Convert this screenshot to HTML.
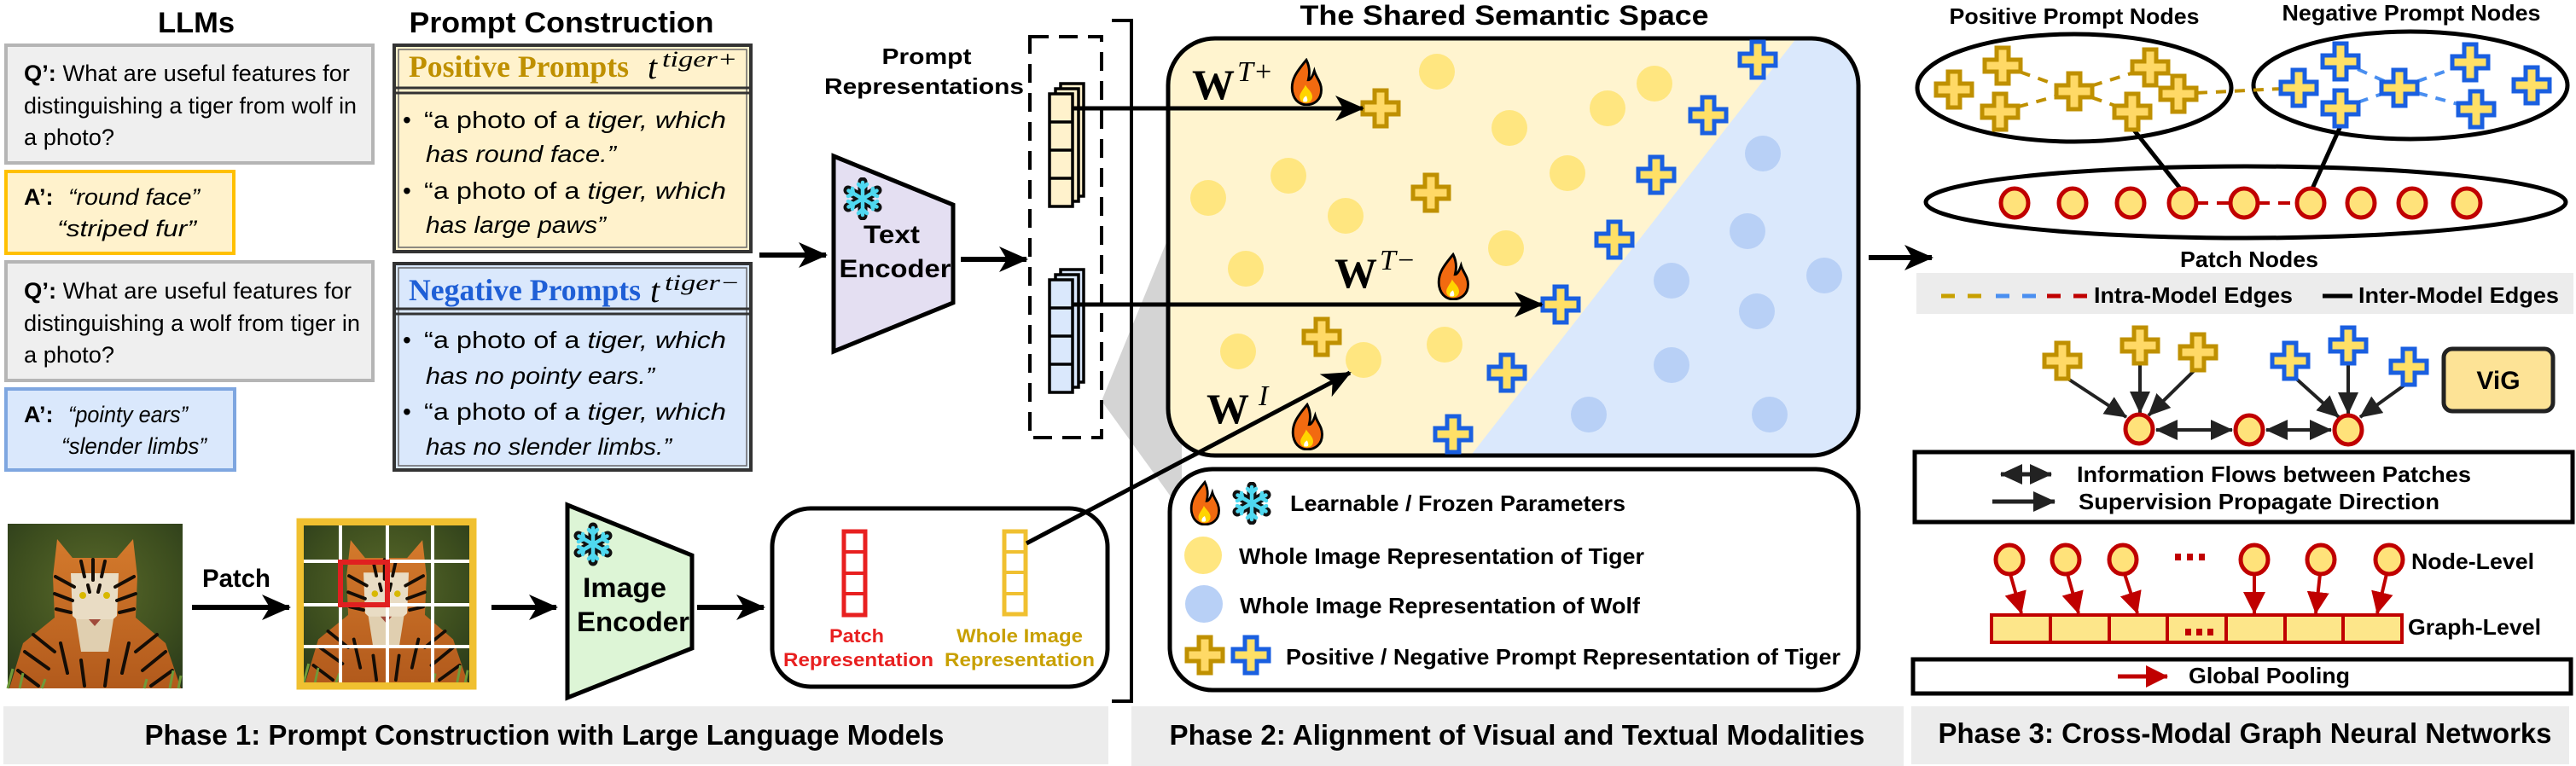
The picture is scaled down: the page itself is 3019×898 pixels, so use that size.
<!DOCTYPE html>
<html><head><meta charset="utf-8"><style>
html,body{margin:0;padding:0;background:#fff;}
svg{display:block;}
text{font-family:"Liberation Sans",Arial,sans-serif;}
.b{font-weight:bold;}
.sf{font-family:"Liberation Serif","Times New Roman",serif;}
</style></head><body>
<svg width="3019" height="898" viewBox="0 0 3019 898" xmlns="http://www.w3.org/2000/svg">
<defs>
<marker id="ah" markerUnits="userSpaceOnUse" markerWidth="34" markerHeight="30" refX="32" refY="15" orient="auto"><path d="M0,0 L34,15 L0,30 L9,15 z" fill="#000"/></marker>
<marker id="ah2" markerUnits="userSpaceOnUse" markerWidth="26" markerHeight="24" refX="25" refY="12" orient="auto-start-reverse"><path d="M0,0 L26,12 L0,24 z" fill="#222"/></marker>
<marker id="ahr" markerUnits="userSpaceOnUse" markerWidth="26" markerHeight="26" refX="25" refY="13" orient="auto"><path d="M0,0 L26,13 L0,26 z" fill="#c00000"/></marker>
<symbol id="flame" viewBox="0 0 36 48"><path d="M18 2 C8 14 2 22 4 34 C6 44 13 47 18 47 C26 47 33 42 33 32 C33 24 28 20 26 13 C24 19 22 22 20 22 C22 14 21 8 18 2Z" fill="#f26a10" stroke="#000" stroke-width="2.5"/><path d="M18 45 C12 45 10 40 12 36 C14 32 16 30 17 27 C19 31 24 34 24 39 C24 43 21 45 18 45Z" fill="#ffd400"/><path d="M15 44 C14 41 16 39 18 38 C19 41 20 43 18 44Z" fill="#fff"/></symbol>
<symbol id="snow" viewBox="-25 -25 50 50"><g stroke="#111" stroke-width="11" stroke-linecap="round"><path d="M0,-20 V20 M-17,-10 L17,10 M-17,10 L17,-10"/></g><g stroke="#4fd8f0" stroke-width="4.5" stroke-linecap="round" fill="none"><path d="M0,-19 V19 M-16.5,-9.5 L16.5,9.5 M-16.5,9.5 L16.5,-9.5"/><path d="M-5,-17 L0,-12 L5,-17 M-5,17 L0,12 L5,17 M-17,-3 L-11,-6 L-12,-12 M17,3 L11,6 L12,12 M-17,3 L-11,6 L-12,12 M17,-3 L11,-6 L12,-12"/></g></symbol>
<path id="cross" d="M-7,-21 H7 V-7 H21 V7 H7 V21 H-7 V7 H-21 V-7 H-7 Z"/>
<g id="gp"><use href="#cross" fill="#ffd966" stroke="#bf9000" stroke-width="5"/></g>
<g id="bp"><use href="#cross" fill="#ffe066" stroke="#1a5fe0" stroke-width="5"/></g>
<g id="pc"><ellipse rx="16" ry="17" fill="#ffe27a" stroke="#c00000" stroke-width="5"/></g>
<clipPath id="ssclip"><rect x="1369" y="45" width="809" height="489" rx="55"/></clipPath>
<radialGradient id="tg" cx="0.5" cy="0.4" r="0.8"><stop offset="0" stop-color="#5a6a2a"/><stop offset="0.6" stop-color="#3c4d1e"/><stop offset="1" stop-color="#26361a"/></radialGradient>
<linearGradient id="tb" x1="0" y1="0" x2="0" y2="1"><stop offset="0" stop-color="#d47a2c"/><stop offset="1" stop-color="#b25a1c"/></linearGradient>
<g id="tiger">
<rect x="0" y="0" width="205" height="193" fill="url(#tg)"/>
<path d="M58 18 L76 40 L128 40 L147 18 L152 62 L150 110 L185 140 L203 193 L2 193 L18 140 L55 110 L53 62Z" fill="url(#tb)"/>
<path d="M74 58 L130 58 L128 108 L102 132 L76 108Z" fill="#e9dcc4"/>
<path d="M80 112 L124 112 L118 150 L86 150Z" fill="#e0cfb0"/>
<g stroke="#140d06" stroke-width="4" fill="none" stroke-linecap="round">
<path d="M56 62 L78 74 M148 62 L126 74 M55 82 L76 90 M150 82 L128 90 M57 100 L74 104 M148 100 L131 104"/>
<path d="M100 42 L100 66 M86 44 L90 62 M114 44 L110 62 M94 72 L96 80 M108 72 L106 80"/>
<path d="M30 130 L55 150 M20 150 L48 170 M12 172 L36 190 M175 130 L150 150 M185 150 L158 172 M193 172 L168 190"/>
<path d="M62 140 L70 175 M142 140 L134 175 M86 160 L90 190 M118 160 L114 190"/>
</g>
<circle cx="88" cy="84" r="4" fill="#d8b800"/><circle cx="116" cy="84" r="4" fill="#d8b800"/>
<path d="M95 112 L109 112 L102 120Z" fill="#a04a3a"/>
<g stroke="#6f9a3a" stroke-width="3"><path d="M0 193 L6 170 M14 193 L18 175 M190 193 L194 172 M200 193 L203 178 M40 193 L44 182 M160 193 L163 182"/></g>
</g>
</defs>

<!-- ===== PHASE 1 ===== -->
<text x="230" y="38" class="b" font-size="34" text-anchor="middle" textLength="90" lengthAdjust="spacingAndGlyphs">LLMs</text>
<text x="658" y="38" class="b" font-size="34" text-anchor="middle" textLength="357" lengthAdjust="spacingAndGlyphs">Prompt Construction</text>

<rect x="7" y="53" width="430" height="138" fill="#efefef" stroke="#b5b5b5" stroke-width="4"/>
<text font-size="27"><tspan x="28" y="95" textLength="382" lengthAdjust="spacingAndGlyphs"><tspan class="b">Q’:</tspan> What are useful features for</tspan><tspan x="28" y="133" textLength="390" lengthAdjust="spacingAndGlyphs">distinguishing a tiger from wolf in</tspan><tspan x="28" y="170" textLength="106" lengthAdjust="spacingAndGlyphs">a photo?</tspan></text>

<rect x="7" y="201" width="267" height="96" fill="#fff2cc" stroke="#ffc000" stroke-width="4"/>
<text font-size="27"><tspan x="28" y="240" class="b">A’:</tspan><tspan x="80" y="240" font-style="italic" textLength="154" lengthAdjust="spacingAndGlyphs">“round face”</tspan><tspan x="67" y="277" font-style="italic" textLength="163" lengthAdjust="spacingAndGlyphs">“striped fur”</tspan></text>

<rect x="7" y="307" width="430" height="139" fill="#efefef" stroke="#b5b5b5" stroke-width="4"/>
<text font-size="27"><tspan x="28" y="350" textLength="384" lengthAdjust="spacingAndGlyphs"><tspan class="b">Q’:</tspan> What are useful features for</tspan><tspan x="28" y="388" textLength="394" lengthAdjust="spacingAndGlyphs">distinguishing a wolf from tiger in</tspan><tspan x="28" y="425" textLength="106" lengthAdjust="spacingAndGlyphs">a photo?</tspan></text>

<rect x="7" y="456" width="268" height="95" fill="#dae8fc" stroke="#7ea6e0" stroke-width="4"/>
<text font-size="27"><tspan x="28" y="495" class="b">A’:</tspan><tspan x="80" y="495" font-style="italic" textLength="140" lengthAdjust="spacingAndGlyphs">“pointy ears”</tspan><tspan x="72" y="532" font-style="italic" textLength="170" lengthAdjust="spacingAndGlyphs">“slender limbs”</tspan></text>

<!-- positive prompts -->
<rect x="462" y="53" width="418" height="242" fill="#fff2cc" stroke="#333" stroke-width="4"/>
<rect x="467" y="58" width="408" height="232" fill="none" stroke="#666" stroke-width="1.5"/>
<line x1="462" y1="103" x2="880" y2="103" stroke="#333" stroke-width="3"/><line x1="462" y1="109" x2="880" y2="109" stroke="#333" stroke-width="3"/>
<text x="479" y="90" class="sf b" font-size="36" fill="#bf9000" textLength="258" lengthAdjust="spacingAndGlyphs">Positive Prompts</text>
<text x="759" y="92" class="sf" font-size="40" font-style="italic">t</text>
<text x="776" y="78" class="sf" font-size="26" font-style="italic" textLength="88" lengthAdjust="spacingAndGlyphs">tiger+</text>
<text font-size="28"><tspan x="472" y="150">•</tspan><tspan x="497" y="150" textLength="354" lengthAdjust="spacingAndGlyphs">“a photo of a <tspan font-style="italic">tiger, which</tspan></tspan><tspan x="499" y="190" font-style="italic" textLength="223" lengthAdjust="spacingAndGlyphs">has round face.”</tspan><tspan x="472" y="233">•</tspan><tspan x="497" y="233" textLength="354" lengthAdjust="spacingAndGlyphs">“a photo of a <tspan font-style="italic">tiger, which</tspan></tspan><tspan x="499" y="273" font-style="italic" textLength="211" lengthAdjust="spacingAndGlyphs">has large paws”</tspan></text>

<!-- negative prompts -->
<rect x="462" y="309" width="418" height="242" fill="#dae8fc" stroke="#333" stroke-width="4"/>
<rect x="467" y="314" width="408" height="232" fill="none" stroke="#666" stroke-width="1.5"/>
<line x1="462" y1="362" x2="880" y2="362" stroke="#333" stroke-width="3"/><line x1="462" y1="368" x2="880" y2="368" stroke="#333" stroke-width="3"/>
<text x="479" y="352" class="sf b" font-size="36" fill="#1f5fd6" textLength="272" lengthAdjust="spacingAndGlyphs">Negative Prompts</text>
<text x="762" y="354" class="sf" font-size="40" font-style="italic">t</text>
<text x="779" y="340" class="sf" font-size="26" font-style="italic" textLength="88" lengthAdjust="spacingAndGlyphs">tiger−</text>
<text font-size="28"><tspan x="472" y="408">•</tspan><tspan x="497" y="408" textLength="354" lengthAdjust="spacingAndGlyphs">“a photo of a <tspan font-style="italic">tiger, which</tspan></tspan><tspan x="499" y="450" font-style="italic" textLength="268" lengthAdjust="spacingAndGlyphs">has no pointy ears.”</tspan><tspan x="472" y="492">•</tspan><tspan x="497" y="492" textLength="354" lengthAdjust="spacingAndGlyphs">“a photo of a <tspan font-style="italic">tiger, which</tspan></tspan><tspan x="499" y="533" font-style="italic" textLength="288" lengthAdjust="spacingAndGlyphs">has no slender limbs.”</tspan></text>

<!-- text encoder -->
<line x1="890" y1="299" x2="968" y2="299" stroke="#000" stroke-width="6" marker-end="url(#ah)"/>
<polygon points="977,183 1117,240 1117,355 977,412" fill="#e4dff2" stroke="#000" stroke-width="5"/>
<use href="#snow" x="986" y="208" width="50" height="50"/>
<text x="1045" y="285" class="b" font-size="30" text-anchor="middle" textLength="66" lengthAdjust="spacingAndGlyphs">Text</text>
<text x="1049" y="325" class="b" font-size="30" text-anchor="middle" textLength="131" lengthAdjust="spacingAndGlyphs">Encoder</text>
<line x1="1126" y1="304" x2="1203" y2="304" stroke="#000" stroke-width="6" marker-end="url(#ah)"/>

<text x="1086" y="75" class="b" font-size="26" text-anchor="middle" textLength="105" lengthAdjust="spacingAndGlyphs">Prompt</text>
<text x="1083" y="110" class="b" font-size="26" text-anchor="middle" textLength="234" lengthAdjust="spacingAndGlyphs">Representations</text>

<!-- gray wedge -->
<polygon points="1291,470 1385,240 1385,600" fill="#d4d4d4"/>
<rect x="1207" y="43" width="84" height="470" fill="#fff" stroke="#000" stroke-width="4" stroke-dasharray="22,12"/>
<!-- stacks -->
<g stroke="#000" stroke-width="3.5">
<rect x="1243" y="98" width="27" height="132" fill="#fff2cc"/>
<rect x="1237" y="104" width="27" height="132" fill="#fff2cc"/>
<rect x="1230" y="110" width="27" height="132" fill="#fff2cc"/>
<line x1="1230" y1="143" x2="1257" y2="143"/><line x1="1230" y1="176" x2="1257" y2="176"/><line x1="1230" y1="209" x2="1257" y2="209"/>
<rect x="1243" y="316" width="27" height="132" fill="#dae8fc"/>
<rect x="1237" y="322" width="27" height="132" fill="#dae8fc"/>
<rect x="1230" y="328" width="27" height="132" fill="#dae8fc"/>
<line x1="1230" y1="361" x2="1257" y2="361"/><line x1="1230" y1="394" x2="1257" y2="394"/><line x1="1230" y1="427" x2="1257" y2="427"/>
</g>
<!-- bracket -->
<polyline points="1303,24 1326,24 1326,822 1303,822" fill="none" stroke="#000" stroke-width="4"/>

<!-- tiger & patches -->
<use href="#tiger" x="9" y="614"/>
<text x="277" y="688" class="b" font-size="30" text-anchor="middle" textLength="80" lengthAdjust="spacingAndGlyphs">Patch</text>
<line x1="225" y1="712" x2="339" y2="712" stroke="#000" stroke-width="6" marker-end="url(#ah)"/>
<rect x="352" y="612" width="202" height="192" fill="none" stroke="#f0c030" stroke-width="9"/>
<svg x="356" y="616" width="194" height="184" viewBox="0 0 205 193" preserveAspectRatio="none"><use href="#tiger"/></svg>
<g stroke="#fff" stroke-width="4"><line x1="399" y1="616" x2="399" y2="800"/><line x1="454" y1="616" x2="454" y2="800"/><line x1="507" y1="616" x2="507" y2="800"/><line x1="356" y1="658" x2="550" y2="658"/><line x1="356" y1="709" x2="550" y2="709"/><line x1="356" y1="758" x2="550" y2="758"/></g>
<rect x="399" y="659" width="55" height="50" fill="none" stroke="#e02020" stroke-width="6"/>
<line x1="576" y1="712" x2="652" y2="712" stroke="#000" stroke-width="6" marker-end="url(#ah)"/>
<polygon points="665,592 811,651 811,760 665,818" fill="#ddf5d6" stroke="#000" stroke-width="5"/>
<use href="#snow" x="670" y="612" width="50" height="52"/>
<text x="732" y="700" class="b" font-size="32" text-anchor="middle" textLength="98" lengthAdjust="spacingAndGlyphs">Image</text>
<text x="742" y="740" class="b" font-size="32" text-anchor="middle" textLength="132" lengthAdjust="spacingAndGlyphs">Encoder</text>
<line x1="817" y1="712" x2="895" y2="712" stroke="#000" stroke-width="6" marker-end="url(#ah)"/>

<rect x="905" y="596" width="393" height="209" rx="45" fill="#fff" stroke="#000" stroke-width="5"/>
<g fill="#fff" stroke-width="5"><rect x="989" y="623" width="25" height="98" stroke="#e82020"/><rect x="1177" y="623" width="25" height="97" stroke="#f0c030"/></g>
<g stroke-width="4"><g stroke="#e82020"><line x1="989" y1="647" x2="1014" y2="647"/><line x1="989" y1="672" x2="1014" y2="672"/><line x1="989" y1="696" x2="1014" y2="696"/></g><g stroke="#f0c030"><line x1="1177" y1="647" x2="1202" y2="647"/><line x1="1177" y1="671" x2="1202" y2="671"/><line x1="1177" y1="696" x2="1202" y2="696"/></g></g>
<text x="1004" y="753" class="b" font-size="22" fill="#e82020" text-anchor="middle" textLength="64" lengthAdjust="spacingAndGlyphs">Patch</text>
<text x="1006" y="781" class="b" font-size="22" fill="#e82020" text-anchor="middle" textLength="176" lengthAdjust="spacingAndGlyphs">Representation</text>
<text x="1195" y="753" class="b" font-size="22" fill="#c8a000" text-anchor="middle" textLength="148" lengthAdjust="spacingAndGlyphs">Whole Image</text>
<text x="1195" y="781" class="b" font-size="22" fill="#c8a000" text-anchor="middle" textLength="176" lengthAdjust="spacingAndGlyphs">Representation</text>

<rect x="4" y="828" width="1295" height="68" fill="#ececec"/>
<text x="638" y="873" class="b" font-size="33" text-anchor="middle" textLength="937" lengthAdjust="spacingAndGlyphs">Phase 1: Prompt Construction with Large Language Models</text>

<!-- ===== PHASE 2 ===== -->
<text x="1763" y="29" class="b" font-size="32" text-anchor="middle" textLength="479" lengthAdjust="spacingAndGlyphs">The Shared Semantic Space</text>
<g clip-path="url(#ssclip)">
<rect x="1369" y="45" width="809" height="489" fill="#fff4cf"/>
<polygon points="2109,40 2190,40 2190,540 1719,540" fill="#dae8fc"/>
</g>
<rect x="1369" y="45" width="809" height="489" rx="55" fill="none" stroke="#000" stroke-width="5"/>
<g fill="#ffe680">
<ellipse cx="1684" cy="84" rx="21" ry="21"/><ellipse cx="1939" cy="98" rx="21" ry="21"/><ellipse cx="1884" cy="127" rx="21" ry="21"/><ellipse cx="1769" cy="150" rx="21" ry="21"/><ellipse cx="1510" cy="206" rx="21" ry="21"/><ellipse cx="1416" cy="232" rx="21" ry="21"/><ellipse cx="1577" cy="253" rx="21" ry="21"/><ellipse cx="1837" cy="203" rx="21" ry="21"/><ellipse cx="1765" cy="291" rx="21" ry="21"/><ellipse cx="1460" cy="315" rx="21" ry="21"/><ellipse cx="1451" cy="412" rx="21" ry="21"/><ellipse cx="1598" cy="422" rx="21" ry="21"/><ellipse cx="1693" cy="404" rx="21" ry="21"/>
</g>
<g fill="#b8d0f6">
<ellipse cx="2066" cy="180" rx="21" ry="21"/><ellipse cx="2048" cy="271" rx="21" ry="21"/><ellipse cx="1959" cy="329" rx="21" ry="21"/><ellipse cx="2138" cy="323" rx="21" ry="21"/><ellipse cx="2059" cy="365" rx="21" ry="21"/><ellipse cx="1959" cy="428" rx="21" ry="21"/><ellipse cx="1862" cy="486" rx="21" ry="21"/><ellipse cx="2074" cy="486" rx="21" ry="21"/>
</g>
<use href="#gp" x="1618" y="127"/><use href="#gp" x="1677" y="226"/><use href="#gp" x="1549" y="395"/>
<use href="#bp" x="2060" y="70"/><use href="#bp" x="2002" y="135"/><use href="#bp" x="1941" y="205"/><use href="#bp" x="1892" y="281"/><use href="#bp" x="1829" y="357"/><use href="#bp" x="1766" y="437"/><use href="#bp" x="1703" y="509"/>

<line x1="1257" y1="127" x2="1597" y2="127" stroke="#000" stroke-width="5" marker-end="url(#ah)"/>
<line x1="1257" y1="357" x2="1807" y2="357" stroke="#000" stroke-width="5" marker-end="url(#ah)"/>
<line x1="1203" y1="637" x2="1582" y2="437" stroke="#000" stroke-width="5" marker-end="url(#ah)"/>

<text x="1397" y="116" class="sf b" font-size="50">W</text>
<text x="1450" y="95" class="sf" font-size="34" font-style="italic">T+</text>
<use href="#flame" x="1510" y="68" width="42" height="56"/>
<text x="1564" y="337" class="sf b" font-size="50">W</text>
<text x="1617" y="316" class="sf" font-size="34" font-style="italic">T−</text>
<use href="#flame" x="1682" y="296" width="42" height="56"/>
<text x="1414" y="496" class="sf b" font-size="50">W</text>
<text x="1475" y="475" class="sf" font-size="34" font-style="italic">I</text>
<use href="#flame" x="1511" y="472" width="42" height="56"/>

<!-- legend -->
<rect x="1371" y="550" width="807" height="259" rx="50" fill="#fff" stroke="#000" stroke-width="5"/>
<use href="#flame" x="1392" y="563" width="40" height="53"/>
<use href="#snow" x="1442" y="565" width="50" height="50"/>
<text x="1512" y="599" class="b" font-size="26" textLength="393" lengthAdjust="spacingAndGlyphs">Learnable / Frozen Parameters</text>
<ellipse cx="1410" cy="651" rx="22" ry="22" fill="#ffe680"/>
<text x="1452" y="661" class="b" font-size="26" textLength="475" lengthAdjust="spacingAndGlyphs">Whole Image Representation of Tiger</text>
<ellipse cx="1411" cy="708" rx="22" ry="22" fill="#b8d0f6"/>
<text x="1453" y="719" class="b" font-size="26" textLength="469" lengthAdjust="spacingAndGlyphs">Whole Image Representation of Wolf</text>
<use href="#gp" x="1412" y="768"/><use href="#bp" x="1466" y="768"/>
<text x="1507" y="779" class="b" font-size="26" textLength="650" lengthAdjust="spacingAndGlyphs">Positive / Negative Prompt Representation of Tiger</text>

<rect x="1326" y="828" width="905" height="70" fill="#ececec"/>
<text x="1778" y="873" class="b" font-size="33" text-anchor="middle" textLength="815" lengthAdjust="spacingAndGlyphs">Phase 2: Alignment of Visual and Textual Modalities</text>

<!-- ===== PHASE 3 ===== -->
<line x1="2190" y1="302" x2="2264" y2="302" stroke="#000" stroke-width="6" marker-end="url(#ah)"/>
<text x="2431" y="28" class="b" font-size="26" text-anchor="middle" textLength="293" lengthAdjust="spacingAndGlyphs">Positive Prompt Nodes</text>
<text x="2826" y="24" class="b" font-size="26" text-anchor="middle" textLength="303" lengthAdjust="spacingAndGlyphs">Negative Prompt Nodes</text>
<ellipse cx="2431" cy="103" rx="184" ry="63" fill="none" stroke="#000" stroke-width="5"/>
<ellipse cx="2825" cy="100" rx="184" ry="63" fill="none" stroke="#000" stroke-width="5"/>
<ellipse cx="2632" cy="237" rx="375" ry="42" fill="none" stroke="#000" stroke-width="5"/>
<g stroke="#bf9000" stroke-width="4" stroke-dasharray="12,10"><line x1="2347" y1="77" x2="2431" y2="107"/><line x1="2344" y1="131" x2="2431" y2="107"/><line x1="2431" y1="107" x2="2520" y2="79"/><line x1="2431" y1="107" x2="2499" y2="131"/><line x1="2553" y1="110" x2="2694" y2="103"/></g>
<g stroke="#4a8ff0" stroke-width="4" stroke-dasharray="12,10"><line x1="2743" y1="72" x2="2812" y2="103"/><line x1="2743" y1="127" x2="2812" y2="103"/><line x1="2812" y1="103" x2="2895" y2="73"/><line x1="2812" y1="103" x2="2902" y2="128"/></g>
<g stroke="#c00000" stroke-width="4" stroke-dasharray="14,10"><line x1="2574" y1="238" x2="2614" y2="238"/><line x1="2646" y1="238" x2="2692" y2="238"/></g>
<g stroke="#000" stroke-width="5"><line x1="2499" y1="150" x2="2556" y2="222"/><line x1="2743" y1="148" x2="2710" y2="221"/></g>
<use href="#gp" x="2290" y="105"/><use href="#gp" x="2347" y="77"/><use href="#gp" x="2344" y="131"/><use href="#gp" x="2431" y="107"/><use href="#gp" x="2520" y="79"/><use href="#gp" x="2553" y="110"/><use href="#gp" x="2499" y="131"/>
<use href="#bp" x="2743" y="72"/><use href="#bp" x="2694" y="103"/><use href="#bp" x="2812" y="103"/><use href="#bp" x="2743" y="127"/><use href="#bp" x="2895" y="73"/><use href="#bp" x="2902" y="128"/><use href="#bp" x="2967" y="100"/>
<use href="#pc" x="2361" y="238"/><use href="#pc" x="2429" y="238"/><use href="#pc" x="2497" y="238"/><use href="#pc" x="2558" y="238"/><use href="#pc" x="2630" y="238"/><use href="#pc" x="2708" y="238"/><use href="#pc" x="2767" y="238"/><use href="#pc" x="2827" y="238"/><use href="#pc" x="2891" y="238"/>
<text x="2636" y="313" class="b" font-size="26" text-anchor="middle" textLength="162" lengthAdjust="spacingAndGlyphs">Patch Nodes</text>

<rect x="2246" y="320" width="770" height="48" fill="#ececec"/>
<g stroke-width="5"><line x1="2275" y1="347" x2="2322" y2="347" stroke="#c8a000" stroke-dasharray="16,15"/><line x1="2339" y1="347" x2="2387" y2="347" stroke="#4a8ff0" stroke-dasharray="16,15"/><line x1="2399" y1="347" x2="2446" y2="347" stroke="#c00000" stroke-dasharray="16,15"/><line x1="2722" y1="347" x2="2757" y2="347" stroke="#000"/></g>
<text x="2454" y="355" class="b" font-size="26" textLength="233" lengthAdjust="spacingAndGlyphs">Intra-Model Edges</text>
<text x="2764" y="355" class="b" font-size="26" textLength="235" lengthAdjust="spacingAndGlyphs">Inter-Model Edges</text>

<!-- ViG -->
<g stroke="#222" stroke-width="4" marker-end="url(#ah2)">
<line x1="2422" y1="443" x2="2492" y2="489"/><line x1="2508" y1="427" x2="2508" y2="484"/><line x1="2572" y1="434" x2="2518" y2="487"/>
<line x1="2690" y1="443" x2="2741" y2="489"/><line x1="2752" y1="427" x2="2752" y2="485"/><line x1="2820" y1="450" x2="2766" y2="489"/>
</g>
<g stroke="#222" stroke-width="4"><line x1="2527" y1="504" x2="2616" y2="504" marker-start="url(#ah2)" marker-end="url(#ah2)"/><line x1="2656" y1="504" x2="2732" y2="504" marker-start="url(#ah2)" marker-end="url(#ah2)"/></g>
<use href="#gp" x="2417" y="423"/><use href="#gp" x="2508" y="405"/><use href="#gp" x="2576" y="413"/>
<use href="#bp" x="2684" y="423"/><use href="#bp" x="2752" y="405"/><use href="#bp" x="2823" y="430"/>
<use href="#pc" x="2507" y="503"/><use href="#pc" x="2636" y="504"/><use href="#pc" x="2752" y="504"/>
<rect x="2864" y="409" width="128" height="73" rx="10" fill="#fde396" stroke="#222" stroke-width="5"/>
<text x="2928" y="456" class="b" font-size="30" text-anchor="middle">ViG</text>

<rect x="2244" y="530" width="771" height="82" fill="#fff" stroke="#000" stroke-width="5"/>
<g stroke="#222" stroke-width="5"><line x1="2345" y1="556" x2="2404" y2="556" marker-start="url(#ah2)" marker-end="url(#ah2)"/><line x1="2335" y1="588" x2="2408" y2="588" marker-end="url(#ah2)"/></g>
<text x="2434" y="565" class="b" font-size="26" textLength="462" lengthAdjust="spacingAndGlyphs">Information Flows between Patches</text>
<text x="2436" y="597" class="b" font-size="26" textLength="423" lengthAdjust="spacingAndGlyphs">Supervision Propagate Direction</text>

<g stroke="#c00000" stroke-width="4" marker-end="url(#ahr)"><line x1="2356" y1="673" x2="2369" y2="719"/><line x1="2423" y1="673" x2="2436" y2="719"/><line x1="2490" y1="673" x2="2505" y2="719"/><line x1="2642" y1="673" x2="2642" y2="719"/><line x1="2719" y1="673" x2="2714" y2="719"/><line x1="2797" y1="673" x2="2786" y2="719"/></g>
<use href="#pc" x="2355" y="656"/><use href="#pc" x="2421" y="656"/><use href="#pc" x="2488" y="656"/><use href="#pc" x="2642" y="656"/><use href="#pc" x="2720" y="656"/><use href="#pc" x="2800" y="656"/>
<g fill="#c00000"><rect x="2549" y="649" width="7" height="8"/><rect x="2563" y="649" width="7" height="8"/><rect x="2577" y="649" width="7" height="8"/></g>
<text x="2826" y="667" class="b" font-size="26" textLength="144" lengthAdjust="spacingAndGlyphs">Node-Level</text>
<g fill="#fde68a" stroke="#c00000" stroke-width="4">
<rect x="2334" y="721" width="69" height="32"/><rect x="2403" y="721" width="69" height="32"/><rect x="2472" y="721" width="68" height="32"/><rect x="2540" y="721" width="69" height="32"/><rect x="2609" y="721" width="69" height="32"/><rect x="2678" y="721" width="68" height="32"/><rect x="2746" y="721" width="69" height="32"/>
</g>
<g fill="#c00000"><rect x="2561" y="737" width="7" height="8"/><rect x="2574" y="737" width="7" height="8"/><rect x="2587" y="737" width="7" height="8"/></g>
<text x="2822" y="744" class="b" font-size="26" textLength="156" lengthAdjust="spacingAndGlyphs">Graph-Level</text>

<rect x="2242" y="773" width="771" height="40" fill="#fff" stroke="#000" stroke-width="5"/>
<line x1="2482" y1="793" x2="2540" y2="793" stroke="#c00000" stroke-width="5" marker-end="url(#ahr)"/>
<text x="2565" y="801" class="b" font-size="26" textLength="189" lengthAdjust="spacingAndGlyphs">Global Pooling</text>

<rect x="2240" y="828" width="771" height="68" fill="#ececec"/>
<text x="2631" y="871" class="b" font-size="33" text-anchor="middle" textLength="719" lengthAdjust="spacingAndGlyphs">Phase 3: Cross-Modal Graph Neural Networks</text>
</svg>
</body></html>
